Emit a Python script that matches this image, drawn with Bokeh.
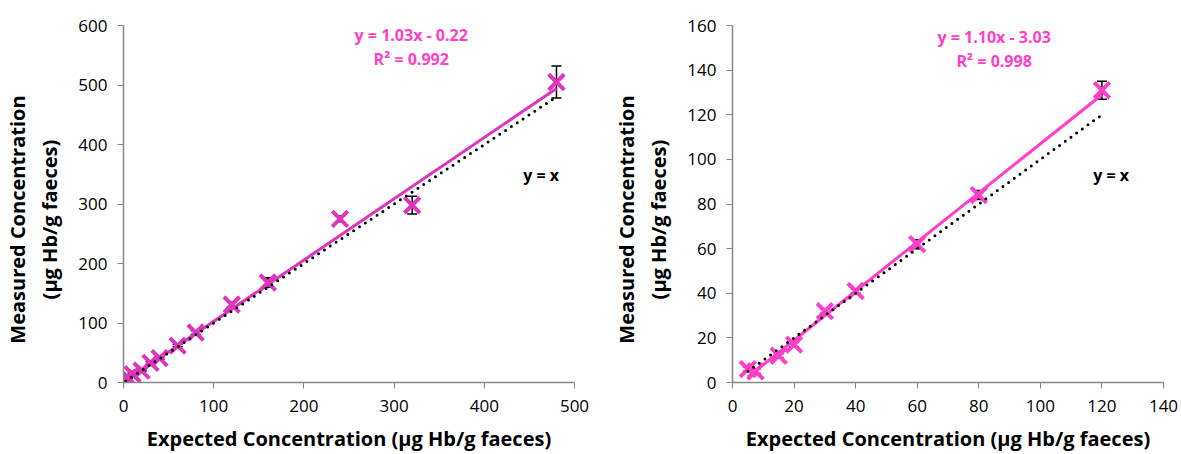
from bokeh.plotting import figure
from bokeh.layouts import row
from bokeh.models import ColumnDataSource, Whisker, Label, FixedTicker
from bokeh.embed import file_html
from bokeh.resources import INLINE

# left panel: expected vs measured (µg Hb/g faeces)
left_expected = [2.5, 5, 10, 20, 30, 40, 60, 80, 120, 160, 240, 320, 480]
left_measured = [6, 8, 14, 20, 33, 41, 62, 84, 131, 168, 275, 298, 505]
left_error = [1, 1, 1, 1, 2, 2, 2, 3, 4, 8, 5, 15, 27]
left_fit = (1.03, -0.22)
left_eq = ["y = 1.03x - 0.22", "R² = 0.992"]

# right panel
right_expected = [5, 7.5, 15, 20, 30, 40, 60, 80, 120]
right_measured = [6, 5, 12, 17, 32, 41, 62, 84, 131]
right_error = [1, 1, 1, 1, 1, 1, 2, 2, 4]
right_fit = (1.10, -3.03)
right_eq = ["y = 1.10x - 3.03", "R² = 0.998"]

FONT = "Open Sans"
AXIS_GREY = "#868686"
PAD = "\u00a0" * 6   # nudges the rotated y title a little below centre


def panel(expected, measured, error, fit, eq, xmax, ymax, xstep, ystep,
          mark_color, text_color, eq_pos, yx_pos, width, bl, br):
    p = figure(width=width, height=454, x_range=(0, xmax), y_range=(0, ymax),
               output_backend="svg", toolbar_location=None,
               min_border_left=bl, min_border_right=br,
               min_border_top=25, min_border_bottom=72)
    p.outline_line_color = None
    p.xgrid.visible = False
    p.ygrid.visible = False
    p.xaxis.ticker = FixedTicker(ticks=list(range(0, xmax + 1, xstep)))
    p.yaxis.ticker = FixedTicker(ticks=list(range(0, ymax + 1, ystep)))
    for ax in (p.xaxis[0], p.yaxis[0]):
        ax.axis_line_color = AXIS_GREY
        ax.major_tick_line_color = AXIS_GREY
        ax.axis_line_width = 1.5
        ax.major_tick_in = 0
        ax.major_tick_out = 6
        ax.minor_tick_line_color = None
        ax.major_label_text_font = FONT
        ax.major_label_text_font_size = "17px"
        ax.major_label_text_color = "black"
        ax.axis_label_text_font = FONT
        ax.axis_label_text_font_style = "bold"
        ax.axis_label_text_font_size = "20px"
        ax.axis_label_text_color = "black"
    p.xaxis.axis_label = "Expected Concentration (µg Hb/g faeces)"
    p.yaxis.axis_label = "Measured Concentration" + PAD + "\n(µg Hb/g faeces)" + PAD
    p.xaxis.axis_label_standoff = 10
    p.yaxis.axis_label_standoff = 12
    p.xaxis.major_label_standoff = 11
    p.yaxis.major_label_standoff = 10

    src = ColumnDataSource(data=dict(
        x=expected, y=measured,
        lo=[m - e for m, e in zip(measured, error)],
        hi=[m + e for m, e in zip(measured, error)]))

    p.scatter("x", "y", source=src, marker="x", size=22, line_width=4,
              line_color=mark_color)

    xs = [min(expected), max(expected)]
    p.line(xs, [fit[0] * v + fit[1] for v in xs], line_color=mark_color,
           line_width=3)
    p.line(xs, xs, line_color="black", line_width=3, line_dash="0 7",
           line_cap="round")

    w = Whisker(source=src, base="x", lower="lo", upper="hi",
                line_color="black", line_width=1.5)
    w.upper_head.size = 10
    w.lower_head.size = 10
    w.upper_head.line_width = 1.5
    w.lower_head.line_width = 1.5
    p.add_layout(w)

    ex, ey1, ey2 = eq_pos
    for txt, yy in zip(eq, (ey1, ey2)):
        p.add_layout(Label(x=ex, y=yy, text=txt, text_align="center",
                           text_baseline="middle", text_font=FONT,
                           text_font_style="bold", text_font_size="16px",
                           text_color=text_color))
    p.add_layout(Label(x=yx_pos[0], y=yx_pos[1], text="y = x",
                       text_align="center", text_baseline="middle",
                       text_font=FONT, text_font_style="bold",
                       text_font_size="16px", text_color="black"))
    return p


p1 = panel(left_expected, left_measured, left_error, left_fit, left_eq,
           500, 600, 100, 100, "#DE34BE", "#FF3FC8", (319, 584, 544),
           (463, 349), 600, 123, 26)
p2 = panel(right_expected, right_measured, right_error, right_fit, right_eq,
           140, 160, 20, 20, "#FF3FCC", "#FF3FCC", (85, 155, 144),
           (123, 93), 581, 132, 18)

p = row(p1, p2)
open("out.html", "w").write(file_html(p, INLINE))
